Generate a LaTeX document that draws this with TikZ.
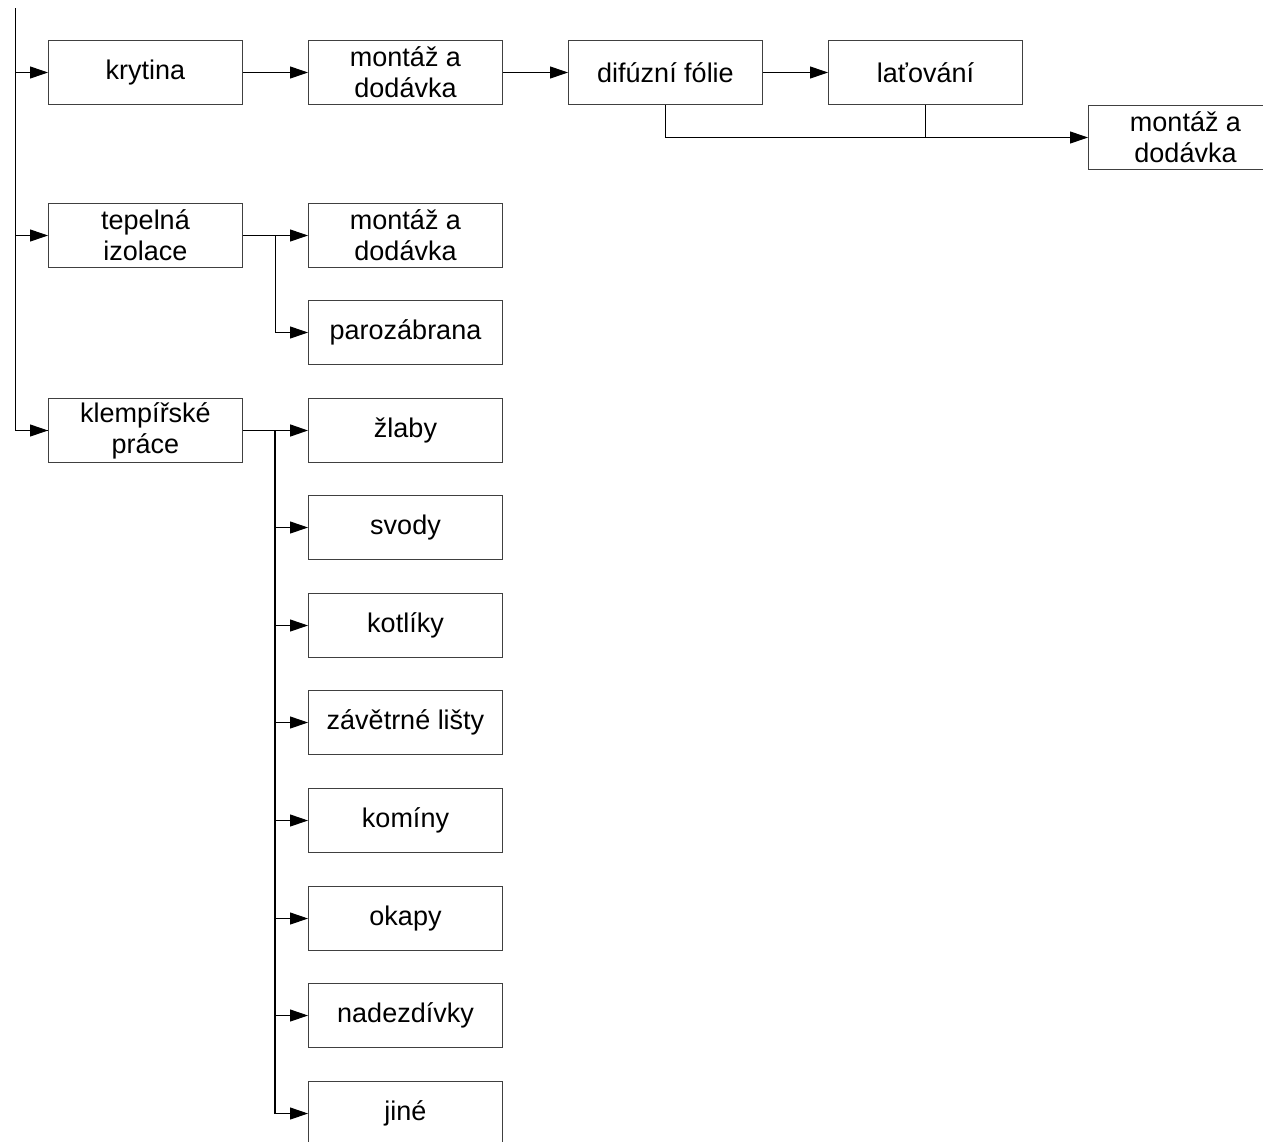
\documentclass[tikz,border=0pt]{standalone}
\usepackage{fontspec}
\setmainfont{Liberation Sans}
\usetikzlibrary{arrows.meta}
\begin{document}
\begin{tikzpicture}[x=1pt,y=-1pt,
  box/.style={draw=black!75,line width=1pt,fill=white,minimum width=194pt,minimum height=64pt,inner sep=0pt,align=center,font=\fontsize{27}{31}\selectfont,anchor=north west},
  conn/.style={line width=1pt,black},
  arr/.style={conn,-{Triangle[length=18pt,width=12pt]}}]
\clip (0,0) rectangle (1263,1141);
\fill[white] (0,0) rectangle (1263,1141);
% boxes
\node[box] (kr) at (48,40) {krytina};
\node[box] (m1) at (308,40) {montáž a\\dodávka};
\node[box] (df) at (568,40) {difúzní fólie};
\node[box] (lt) at (828,40) {laťování};
\node[box] (m2) at (1088,105) {montáž a\\dodávka};
\node[box] (tp) at (48,203) {tepelná\\izolace};
\node[box] (m3) at (308,203) {montáž a\\dodávka};
\node[box] (pz) at (308,300) {parozábrana};
\node[box] (kl) at (48,398) {klempířské\\práce};
\node[box] (zl) at (308,398) {žlaby};
\node[box] (sv) at (308,495) {svody};
\node[box] (ko) at (308,593) {kotlíky};
\node[box] (zv) at (308,690) {závětrné lišty};
\node[box] (km) at (308,788) {komíny};
\node[box] (ok) at (308,886) {okapy};
\node[box] (nd) at (308,983) {nadezdívky};
\node[box] (ji) at (308,1081) {jiné};
% root line
\coordinate (top) at (15,8);
\draw[conn] (top) |- (kl.west);
\draw[arr] (15,0 |- kr.west) -- (kr.west);
\draw[arr] (15,0 |- tp.west) -- (tp.west);
\draw[arr] (15,0 |- kl.west) -- (kl.west);
% chain
\draw[arr] (kr) -- (m1);
\draw[arr] (m1) -- (df);
\draw[arr] (df) -- (lt);
\draw[arr] (df.south) |- (m2.west);
\draw[conn] (lt.south) -- ++(0,32);
% tepelna
\coordinate (bt) at (275,0 |- tp.east);
\draw[arr] (tp) -- (m3);
\draw[arr] (bt) |- (pz.west);
% klempirske
\coordinate (bk) at (275,0 |- kl.east);
\draw[arr,line width=1.6pt] (kl) -- (zl);
\foreach \n in {sv,ko,zv,km,ok,nd,ji}{
  \draw[arr] (bk) |- (\n.west);
}
\draw[conn,line width=1.6pt] (bk) -- (275,0 |- ji.west);
\end{tikzpicture}
\end{document}
